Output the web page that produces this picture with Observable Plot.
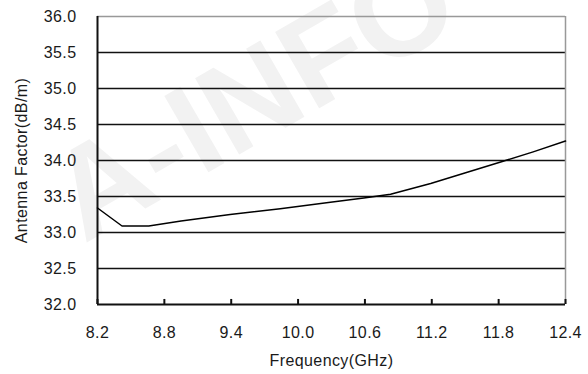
<!DOCTYPE html>
<html><head><meta charset="utf-8">
<script src="https://cdn.jsdelivr.net/npm/d3@7"></script>
<script src="https://cdn.jsdelivr.net/npm/@observablehq/plot@0.6"></script>
<style>body{margin:0;background:#fff;} #chart{width:588px;height:374px;}</style>
</head><body><div id="chart"></div>
<script>
const frequency = [8.2, 8.42, 8.66, 8.95, 9.39, 9.84, 10.29, 10.59, 10.83, 11.19, 11.46, 11.84, 12.11, 12.4];
const antennaFactor = [33.34, 33.09, 33.09, 33.16, 33.25, 33.33, 33.42, 33.48, 33.53, 33.68, 33.81, 33.99, 34.12, 34.27];
const xTicks = [8.2, 8.8, 9.4, 10.0, 10.6, 11.2, 11.8, 12.4];
const yTicks = [32.0, 32.5, 33.0, 33.5, 34.0, 34.5, 35.0, 35.5, 36.0];
const xLabel = "Frequency(GHz)";
const yLabel = "Antenna Factor(dB/m)";
const watermark = "A-INFO";

const data = frequency.map((f, i) => ({f, v: antennaFactor[i]}));
const innerGrid = yTicks.filter(d => d > 32 && d < 36);

const chart = Plot.plot({
  width: 588, height: 374,
  marginLeft: 97, marginRight: 23, marginTop: 16, marginBottom: 70,
  style: {fontFamily: "'Liberation Sans', Arial, sans-serif", fontSize: "16px", letterSpacing: "0.4px", color: "#1a1a1a", background: "transparent"},
  x: {domain: [xTicks[0], xTicks[xTicks.length - 1]]},
  y: {domain: [yTicks[0], yTicks[yTicks.length - 1]]},
  marks: [
    Plot.ruleY(innerGrid, {stroke: "#111", strokeWidth: 1.7}),
    Plot.ruleY([yTicks[yTicks.length - 1]], {stroke: "#999", strokeWidth: 1.5}),
    Plot.ruleX([xTicks[xTicks.length - 1]], {stroke: "#999", strokeWidth: 1.5}),
    Plot.ruleX([xTicks[0]], {stroke: "#111", strokeWidth: 2}),
    Plot.ruleY([yTicks[0]], {stroke: "#111", strokeWidth: 2}),
    Plot.ruleX(xTicks, {y1: yTicks[0], y2: yTicks[0] + 0.07, stroke: "#111", strokeWidth: 2}),
    Plot.line(data, {x: "f", y: "v", stroke: "#000", strokeWidth: 1.5}),
    Plot.axisY({ticks: yTicks, tickSize: 0, tickPadding: 21, tickFormat: d => d.toFixed(1),
      label: yLabel, labelAnchor: "center", labelOffset: 82, labelArrow: "none"}),
    Plot.axisX({ticks: xTicks, tickSize: 0, tickPadding: 22, tickFormat: d => d.toFixed(1),
      label: xLabel, labelAnchor: "center", labelOffset: 61, labelArrow: "none"})
  ]
});

// faint background watermark
const svg = d3.select(chart);
const wm = svg.insert("g", ":first-child").attr("aria-hidden", "true");
wm.append("text")
  .attr("transform", "translate(84,244) rotate(-30)")
  .attr("text-anchor", "start")
  .attr("font-family", "'Liberation Sans', Arial, sans-serif")
  .attr("font-weight", "bold")
  .attr("font-size", 128)
  .attr("letter-spacing", 0)
  .attr("fill", "#f2f2f2")
  .text(watermark);

document.getElementById("chart").appendChild(chart);
</script>
</body></html>
